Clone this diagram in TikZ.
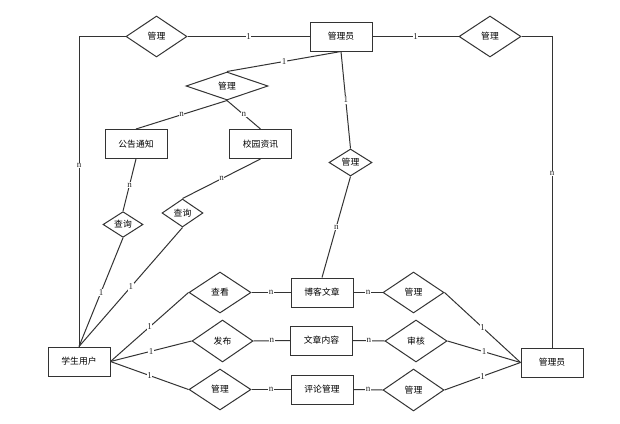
\documentclass[tikz,border=0pt]{standalone}
\usepackage{fontspec}
\setmainfont{Liberation Serif}
\newfontfamily\cjk{Noto Sans CJK SC}
\usetikzlibrary{shapes.geometric}
\tikzset{
  ent/.style={draw=black!80, line width=1pt, rectangle, minimum width=62pt, minimum height=29pt, inner sep=0pt, font=\cjk\fontsize{8.8}{10}\selectfont},
  rel/.style={draw=black!80, line width=1pt, diamond, inner sep=0pt, font=\cjk\fontsize{8.8}{10}\selectfont},
  conn/.style={draw=black!80, line width=1pt},
  lab/.style={fill=white, inner sep=0.6pt, font=\fontsize{9}{10}\selectfont, text=black!85}
}
\begin{document}
\begin{tikzpicture}[x=1pt,y=-1pt]
\useasboundingbox (0,0) rectangle (620,423);
% entities
\node[ent] (adm1) at (341,36.5) {管理员};
\node[ent] (gg) at (136,144) {公告通知};
\node[ent] (xy) at (260.5,144) {校园资讯};
\node[ent] (stu) at (79,361.5) {学生用户};
\node[ent] (bk) at (322,292.5) {博客文章};
\node[ent] (wz) at (321.5,340.5) {文章内容};
\node[ent] (pl) at (322,389.5) {评论管理};
\node[ent] (adm2) at (552,362.5) {管理员};
% relations
\node[rel, minimum width=61pt, minimum height=41pt] (r1) at (156.5,36.5) {管理};
\node[rel, minimum width=62pt, minimum height=41pt] (r2) at (490,36.5) {管理};
\node[rel, minimum width=82pt, minimum height=28pt] (r3) at (227,86) {管理};
\node[rel, minimum width=43pt, minimum height=27pt] (r4) at (350.5,162.5) {管理};
\node[rel, minimum width=40pt, minimum height=23pt] (q1) at (123,224.5) {查询};
\node[rel, minimum width=41pt, minimum height=28pt] (q2) at (182.5,213) {查询};
\node[rel, minimum width=62pt, minimum height=41pt] (ck) at (220,292.5) {查看};
\node[rel, minimum width=61pt, minimum height=42pt] (fb) at (222.5,341) {发布};
\node[rel, minimum width=62pt, minimum height=41pt] (gl) at (220,389.5) {管理};
\node[rel, minimum width=61pt, minimum height=41pt] (g2) at (413.5,292.5) {管理};
\node[rel, minimum width=62pt, minimum height=42pt] (sh) at (416,341) {审核};
\node[rel, minimum width=61pt, minimum height=42pt] (g3) at (413.5,390) {管理};
% connectors
\draw[conn] (r1.west) -| node[lab, pos=0.708] {n} (stu.north);
\draw[conn] (r1.east) -- node[lab] {1} (adm1.west);
\draw[conn] (adm1.east) -- node[lab] {1} (r2.west);
\draw[conn] (r2.east) -| node[lab, pos=0.72] {n} (adm2.north);
\draw[conn] (adm1.south) -- node[lab] {1} (r3.north);
\draw[conn] (r3.south) -- node[lab] {n} (gg.north);
\draw[conn] (r3.south) -- node[lab] {n} (xy.north);
\draw[conn] (adm1.south) -- node[lab] {1} (r4.north);
\draw[conn] (r4.south) -- node[lab] {n} (bk.north);
\draw[conn] (gg.south) -- node[lab] {n} (q1.north);
\draw[conn] (xy.south) -- node[lab] {n} (q2.north);
\draw[conn] (q1.south) -- node[lab] {1} (stu.north);
\draw[conn] (q2.south) -- node[lab] {1} (stu.north);
\draw[conn] (stu.east) -- node[lab] {1} (ck.west);
\draw[conn] (stu.east) -- node[lab] {1} (fb.west);
\draw[conn] (stu.east) -- node[lab] {1} (gl.west);
\draw[conn] (ck.east) -- node[lab] {n} (bk.west);
\draw[conn] (fb.east) -- node[lab] {n} (wz.west);
\draw[conn] (gl.east) -- node[lab] {n} (pl.west);
\draw[conn] (bk.east) -- node[lab] {n} (g2.west);
\draw[conn] (wz.east) -- node[lab] {n} (sh.west);
\draw[conn] (pl.east) -- node[lab] {n} (g3.west);
\draw[conn] (g2.east) -- node[lab] {1} (adm2.west);
\draw[conn] (sh.east) -- node[lab] {1} (adm2.west);
\draw[conn] (g3.east) -- node[lab] {1} (adm2.west);
\end{tikzpicture}
\end{document}
